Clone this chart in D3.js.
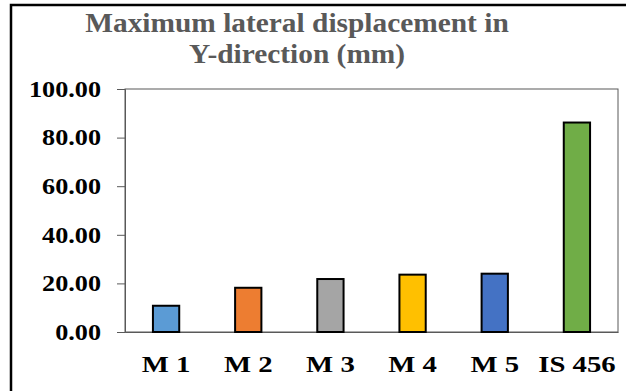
<!DOCTYPE html>
<html>
<head>
<meta charset="utf-8">
<script src="https://cdn.jsdelivr.net/npm/d3@7"></script>
<style>
  body { margin: 0; background: #fff; }
  text { font-family: "Liberation Serif", "Times New Roman", serif; font-weight: bold; }
</style>
</head>
<body>
<svg id="chart" width="626" height="391"></svg>
<script>
// chart data
const categories = ["M 1", "M 2", "M 3", "M 4", "M 5", "IS 456"];
const values = [10.8, 18.2, 21.8, 23.6, 24.0, 86.2];
const barColors = ["#5B9BD5", "#ED7D31", "#A5A5A5", "#FFC000", "#4472C4", "#70AD47"];
const yTicks = [0, 20, 40, 60, 80, 100];
const titleLines = ["Maximum lateral displacement in", "Y-direction (mm)"];

const svg = d3.select("#chart");
const width = 626, height = 391;
const margin = {top: 89, right: 8, bottom: 59, left: 125};

// the source picture is a bit stretched sideways, so text gets a horizontal scale
const tickStretch = 1.14, catStretch = 1.25, titleStretch = 1.05;

// outer chart border (only top and left are visible in the crop)
svg.append("rect")
    .attr("x", 11).attr("y", 5)
    .attr("width", 700).attr("height", 500)
    .attr("fill", "none")
    .attr("stroke", "#000")
    .attr("stroke-width", 2.5);

const x = d3.scaleBand()
    .domain(categories)
    .range([margin.left, width - margin.right])
    .paddingInner(0.68)
    .paddingOuter(0.34);

const y = d3.scaleLinear()
    .domain([0, 100])
    .range([height - margin.bottom, margin.top]);

// plot area frame
svg.append("rect")
    .attr("x", margin.left)
    .attr("y", margin.top)
    .attr("width", width - margin.right - margin.left)
    .attr("height", height - margin.bottom - margin.top)
    .attr("fill", "none")
    .attr("stroke", "#595959")
    .attr("stroke-width", 1);

// y axis
const yAxis = svg.append("g")
    .attr("transform", `translate(${margin.left},0)`)
    .call(d3.axisLeft(y).tickValues(yTicks).tickFormat(d3.format(".2f")).tickSize(8).tickPadding(15));
yAxis.select(".domain").attr("stroke", "#595959");
yAxis.selectAll(".tick line").attr("stroke", "#595959");
yAxis.selectAll(".tick text")
    .attr("fill", "#000")
    .attr("x", -24 / tickStretch)
    .attr("transform", `scale(${tickStretch},1)`)
    .style("font-size", "23px")
    .style("font-family", "Liberation Serif, serif")
    .style("font-weight", "bold");

// x axis
const xAxis = svg.append("g")
    .attr("transform", `translate(0,${height - margin.bottom})`)
    .call(d3.axisBottom(x).tickSize(0).tickPadding(24));
xAxis.select(".domain").attr("stroke", "#595959");
xAxis.selectAll(".tick text")
    .attr("fill", "#000")
    .attr("transform", `scale(${catStretch},1)`)
    .style("font-size", "23px")
    .style("font-family", "Liberation Serif, serif")
    .style("font-weight", "bold");

// bars
svg.append("g").selectAll("rect")
    .data(categories)
    .join("rect")
    .attr("x", d => x(d))
    .attr("y", (d, i) => y(values[i]))
    .attr("width", x.bandwidth())
    .attr("height", (d, i) => y(0) - y(values[i]))
    .attr("fill", (d, i) => barColors[i])
    .attr("stroke", "#000")
    .attr("stroke-width", 2);

// title
svg.append("g").selectAll("text")
    .data(titleLines)
    .join("text")
    .attr("transform", (d, i) => `translate(297,${32 + i * 31}) scale(${titleStretch},1)`)
    .attr("text-anchor", "middle")
    .attr("fill", "#595959")
    .style("font-size", "28px")
    .text(d => d);
</script>
</body>
</html>
